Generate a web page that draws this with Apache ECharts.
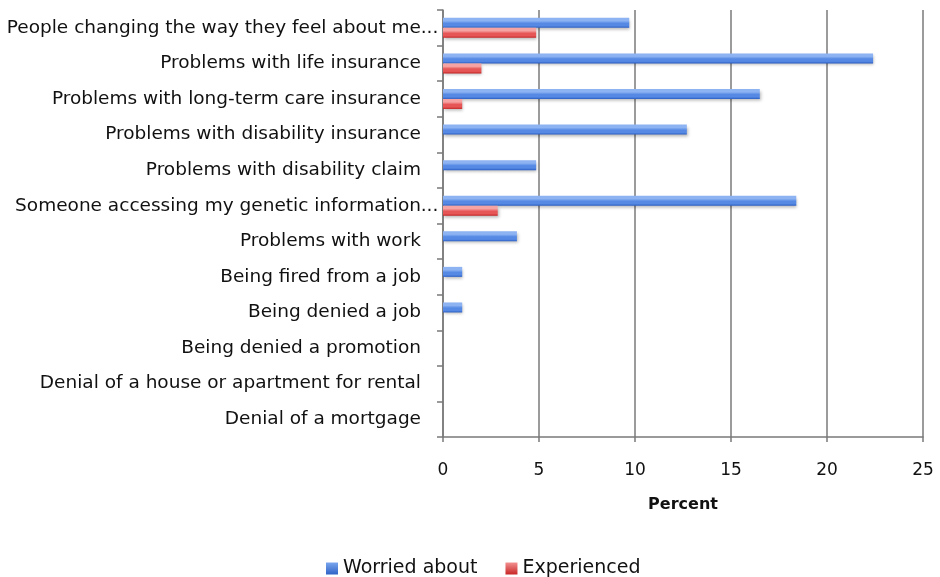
<!DOCTYPE html>
<html>
<head>
<meta charset="utf-8">
<script src="https://cdn.jsdelivr.net/npm/echarts@6/dist/echarts.min.js"></script>
<style>
  html, body { margin: 0; padding: 0; background: #fff; }
  #chart { width: 940px; height: 577px; }
</style>
</head>
<body>
<div id="chart"></div>
<script>
// Concerns about genetic information, in percent of respondents
const categories = [
  'People changing the way they feel about me...',
  'Problems with life insurance',
  'Problems with long-term care insurance',
  'Problems with disability insurance',
  'Problems with disability claim',
  'Someone accessing my genetic information...',
  'Problems with work',
  'Being fired from a job',
  'Being denied a job',
  'Being denied a promotion',
  'Denial of a house or apartment for rental',
  'Denial of a mortgage'
];
const worriedAbout = [9.7, 22.4, 16.5, 12.7, 4.85, 18.4, 3.85, 1.0, 1.0, 0, 0, 0];
const experienced  = [4.85, 2.0, 1.0, 0, 0, 2.85, 0, 0, 0, 0, 0, 0];
const xTicks = [0, 5, 10, 15, 20, 25];

const FONT = 'DejaVu Sans';

// Glossy fill: light top edge, solid body, darker bottom edge
function glossy(light, body, dark) {
  return new echarts.graphic.LinearGradient(0, 0, 0, 1, [
    { offset: 0, color: light },
    { offset: 0.3, color: light },
    { offset: 0.55, color: body },
    { offset: 0.8, color: body },
    { offset: 1, color: dark }
  ]);
}
function swatch(light, dark) {
  return new echarts.graphic.LinearGradient(0, 0, 0, 1, [
    { offset: 0, color: light },
    { offset: 1, color: dark }
  ]);
}

// Label bodies line up on the same right edge; a trailing "..." hangs into the
// reserved gap, while full labels fill that gap with an empty spacer.
function categoryLabel(value) {
  if (value.endsWith('...')) {
    return '{t|' + value.slice(0, -3) + '}{e|...}';
  }
  return '{t|' + value + '}{p| }';
}

const chart = echarts.init(document.getElementById('chart'));
chart.setOption({
  animation: false,
  backgroundColor: '#ffffff',
  grid: { left: 443, right: 17, top: 10, bottom: 140 },
  legend: {
    top: 554,
    left: 321,
    itemWidth: 12,
    itemHeight: 12,
    itemGap: 28,
    icon: 'rect',
    textStyle: { fontFamily: FONT, fontSize: 19, color: '#111' },
    data: [
      { name: 'Worried about', itemStyle: { color: swatch('#7aa6ee', '#2f62c6'), shadowBlur: 0, shadowOffsetX: 0, shadowOffsetY: 0 } },
      { name: 'Experienced', itemStyle: { color: swatch('#f39090', '#c82626'), shadowBlur: 0, shadowOffsetX: 0, shadowOffsetY: 0 } }
    ]
  },
  xAxis: {
    type: 'value',
    min: xTicks[0],
    max: xTicks[xTicks.length - 1],
    interval: xTicks[1] - xTicks[0],
    name: 'Percent',
    nameLocation: 'middle',
    nameGap: 60,
    nameTextStyle: { fontFamily: FONT, fontSize: 16, fontWeight: 'bold', color: '#111' },
    axisLine: { show: true, lineStyle: { color: '#7a7a7a', width: 1.5 } },
    axisTick: { show: true, length: 5, lineStyle: { color: '#7a7a7a', width: 1.5 } },
    axisLabel: { margin: 25, fontFamily: FONT, fontSize: 17, color: '#111' },
    splitLine: { show: true, lineStyle: { color: '#7a7a7a', width: 1.5 } }
  },
  yAxis: {
    type: 'category',
    inverse: true,
    data: categories,
    axisLine: { show: true, lineStyle: { color: '#7a7a7a', width: 1.5 } },
    axisTick: { show: true, length: 6, lineStyle: { color: '#7a7a7a', width: 1.5 } },
    axisLabel: {
      margin: 5,
      formatter: categoryLabel,
      rich: {
        t: { fontFamily: FONT, fontSize: 18.5, color: '#111' },
        e: { fontFamily: FONT, fontSize: 18.5, color: '#111', width: 17, align: 'left' },
        p: { fontFamily: FONT, fontSize: 18.5, width: 17 }
      }
    },
    splitLine: { show: false }
  },
  series: [
    {
      name: 'Worried about',
      type: 'bar',
      data: worriedAbout,
      barWidth: 10,
      barGap: '0%',
      itemStyle: {
        color: glossy('#8db3f2', '#5589e4', '#2c5fc4'),
        shadowColor: 'rgba(0,0,0,0.28)',
        shadowBlur: 3,
        shadowOffsetX: 1,
        shadowOffsetY: 2
      }
    },
    {
      name: 'Experienced',
      type: 'bar',
      data: experienced,
      barWidth: 10,
      barGap: '0%',
      itemStyle: {
        color: glossy('#f6a3a3', '#e65656', '#c42424'),
        shadowColor: 'rgba(0,0,0,0.28)',
        shadowBlur: 3,
        shadowOffsetX: 1,
        shadowOffsetY: 2
      }
    }
  ]
});
</script>
</body>
</html>
